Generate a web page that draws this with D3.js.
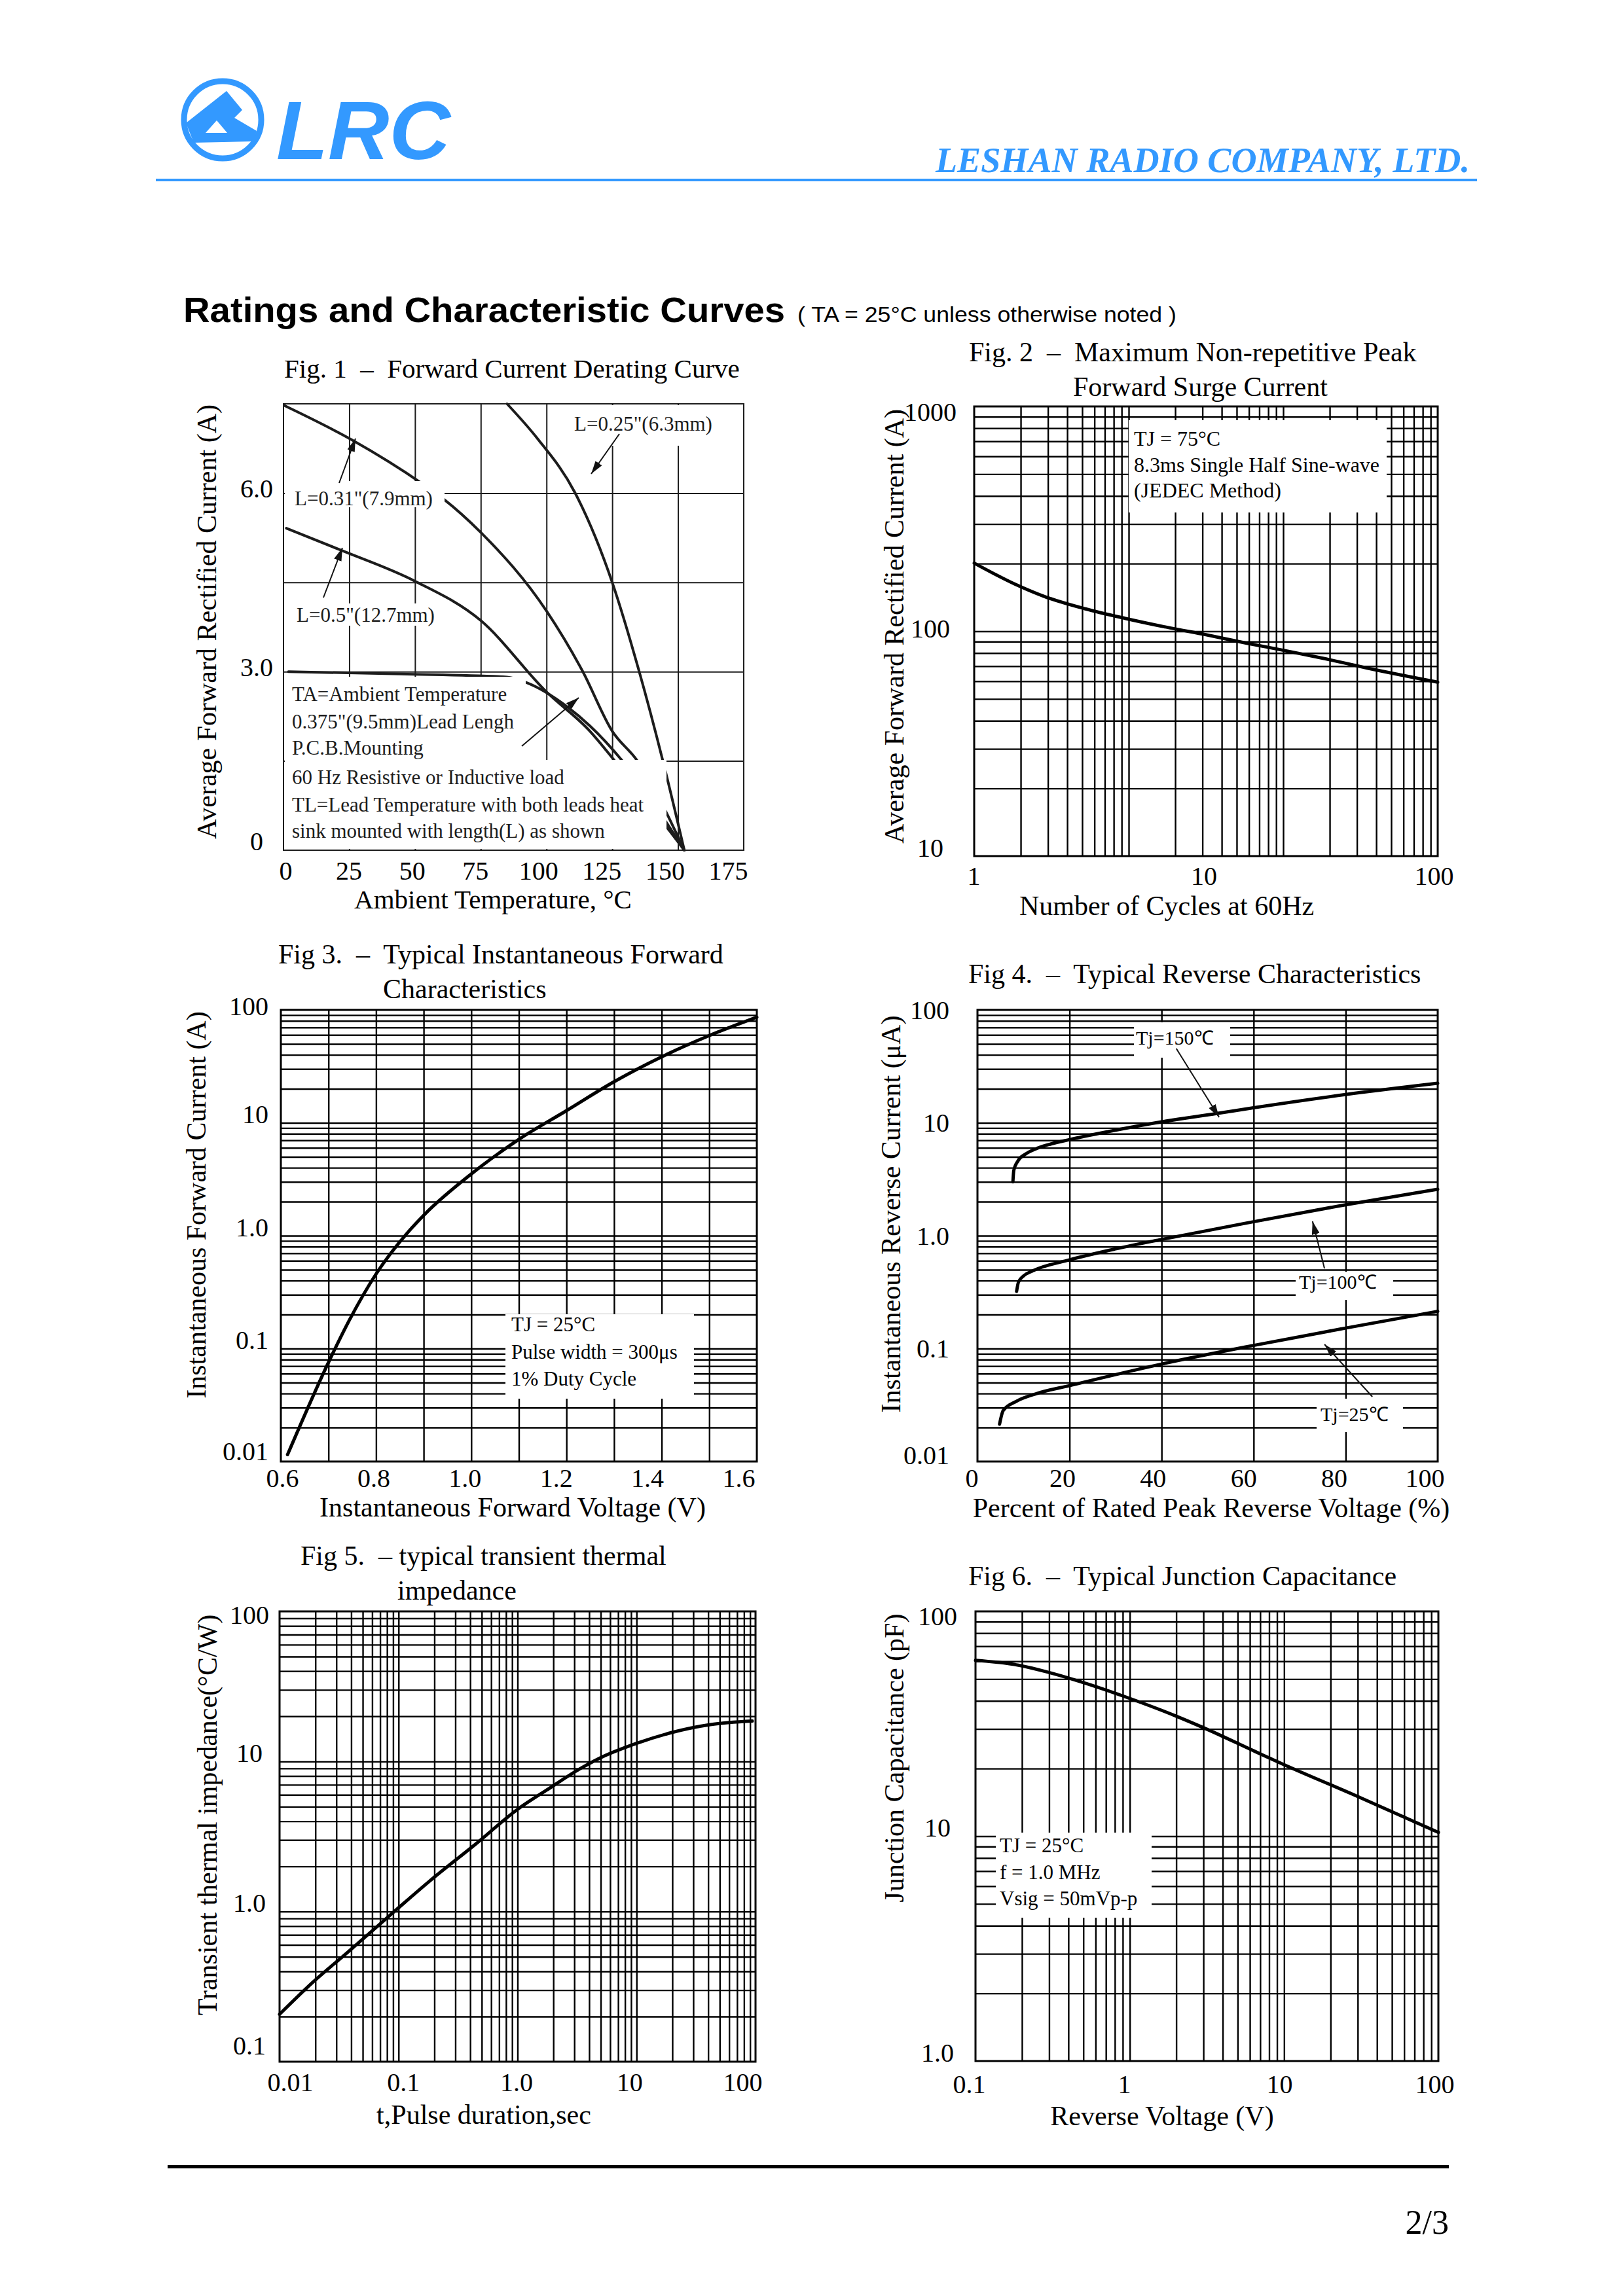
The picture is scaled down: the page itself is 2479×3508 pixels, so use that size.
<!DOCTYPE html>
<html>
<head>
<meta charset="utf-8">
<title>Ratings and Characteristic Curves</title>
<style>
  body { margin: 0; background: #fff; }
  text { white-space: pre; }
</style>
</head>
<body>
<script src="https://cdnjs.cloudflare.com/ajax/libs/d3/7.9.0/d3.min.js"></script>
<script>
// ---------- values ----------

// Fig 1 - forward current derating (ambient °C -> A)
const fig1TempL025 = [85, 96.5, 110.8, 125, 135.2, 144.2, 152.4];
const fig1AmpL025  = [7.5, 6.92, 6.01, 4.5, 3.01, 1.51, 0];
const fig1TempL031 = [0.4, 26.2, 52.7, 60.6, 75, 100, 113.7, 125, 134.4, 152.4];
const fig1AmpL031  = [7.47, 6.89, 6.16, 5.91, 5.34, 4.02, 3.01, 2.0, 1.51, 0];
const fig1TempL05  = [1.1, 21.9, 50, 75, 100, 116.5, 125.8, 152.4];
const fig1AmpL05   = [5.41, 5.04, 4.52, 3.86, 2.66, 2.0, 1.51, 0];
const fig1TempPcb  = [1.9, 44.9, 85, 92.2, 107.9, 116.5, 128.7, 152.4];
const fig1AmpPcb   = [3.0, 2.96, 2.91, 2.82, 2.41, 2.09, 1.51, 0];
const fig1XTicks = [0, 25, 50, 75, 100, 125, 150, 175];
const fig1YTicks = [0, 3, 6];
const fig1YTickText = ["0", "3.0", "6.0"];
const fig1XGrid = [25, 50, 75, 100, 125, 150];
const fig1YGrid = [1.5, 3, 4.5, 6];

// Fig 2 - surge current vs cycles
const fig2Cycles = [1, 1.5, 2, 3, 4.5, 7, 10, 15, 22, 33, 50, 100];
const fig2Amps   = [201, 162, 143, 126, 114, 103.5, 96.5, 88.5, 82, 75.3, 68.5, 59.4];
const fig2XTicks = [1, 10, 100];
const fig2YTicks = [10, 100, 1000];

// Fig 3 - forward characteristics
const fig3Volts = [0.614, 0.70, 0.744, 0.80, 0.868, 0.902, 1.0, 1.1, 1.2, 1.3, 1.4, 1.5, 1.6];
const fig3Amps  = [0.0115, 0.0755, 0.179, 0.458, 1.086, 1.545, 3.52, 7.13, 12.8, 23.1, 38.4, 59.2, 86.1];
const fig3XTicks = [0.6, 0.8, 1.0, 1.2, 1.4, 1.6];
const fig3XGrid = [0.7, 0.8, 0.9, 1.0, 1.1, 1.2, 1.3, 1.4, 1.5];
const decadeTicks = [0.01, 0.1, 1, 10, 100];
const decadeTickText = ["0.01", "0.1", "1.0", "10", "100"];

// Fig 4 - reverse characteristics (% of VRRM -> µA)
const fig4Pct150 = [7.7, 7.9, 8.8, 10.5, 13, 16, 20, 30, 40, 52, 60, 80, 100];
const fig4Ir150  = [3.0, 3.8, 4.6, 5.3, 5.95, 6.5, 7.1, 8.6, 10.2, 12.1, 13.6, 17.8, 22.4];
const fig4Pct100 = [8.5, 8.9, 10, 11.9, 20, 30.2, 40, 60, 80, 100];
const fig4Ir100  = [0.321, 0.387, 0.44, 0.486, 0.611, 0.767, 0.927, 1.33, 1.88, 2.58];
const fig4Pct25  = [4.8, 5.6, 8.5, 12.7, 20, 40, 60, 80, 100];
const fig4Ir25   = [0.0214, 0.0283, 0.0342, 0.0398, 0.047, 0.073, 0.1067, 0.152, 0.214];
const fig4XTicks = [0, 20, 40, 60, 80, 100];
const fig4XGrid = [20, 40, 60, 80];

// Fig 5 - transient thermal impedance
const fig5Sec = [0.01, 0.0191, 0.0368, 0.0946, 0.183, 0.443, 1.0, 1.87, 3.37, 4.87, 10, 19.8, 41.6, 94];
const fig5Zth = [0.207, 0.339, 0.530, 1.02, 1.60, 2.81, 4.80, 6.66, 8.97, 10.5, 13.2, 15.6, 17.6, 18.6];
const fig5XTicks = [0.01, 0.1, 1, 10, 100];
const fig5XTickText = ["0.01", "0.1", "1.0", "10", "100"];
const fig5YTicks = [0.1, 1, 10, 100];
const fig5YTickText = ["0.1", "1.0", "10", "100"];

// Fig 6 - junction capacitance
const fig6Volts = [0.1, 0.19, 0.284, 0.464, 1.0, 2.0, 3.0, 6.5, 10, 28.2, 100];
const fig6Pf    = [60.6, 57.6, 54.0, 49.0, 41.0, 34.2, 30.4, 23.8, 20.8, 15.3, 10.4];
const fig6XTicks = [0.1, 1, 10, 100];
const fig6XTickText = ["0.1", "1", "10", "100"];
const fig6YTicks = [1, 10, 100];
const fig6YTickText = ["1.0", "10", "100"];

// ---------- page ----------
const W = 2479, H = 3508;
const SERIF = "'Liberation Serif', 'Times New Roman', serif";
const SANS = "'Liberation Sans', Arial, Helvetica, sans-serif";
const BLUE = "#3399ff";

const svg = d3.select("body").append("svg")
    .attr("width", W).attr("height", H).style("display", "block");
svg.append("rect").attr("width", W).attr("height", H).attr("fill", "#fff");

svg.append("defs").append("marker")
    .attr("id", "arrow").attr("viewBox", "0 0 20 12")
    .attr("refX", 20).attr("refY", 6)
    .attr("markerWidth", 20).attr("markerHeight", 12)
    .attr("markerUnits", "userSpaceOnUse").attr("orient", "auto")
    .append("path").attr("d", "M0,0L20,6L0,12Z").attr("fill", "#111");

function logGrid(lo, hi) {
    const out = [];
    for (let e = Math.floor(Math.log10(lo)); e <= Math.ceil(Math.log10(hi)); e++) {
        for (let m = 1; m <= 9; m++) {
            const v = +(m * Math.pow(10, e)).toPrecision(6);
            if (v > lo * 1.001 && v < hi * 0.999) out.push(v);
        }
    }
    return out;
}

function text(str, x, y, size, o = {}) {
    const t = (o.parent || svg).append("text")
        .attr("x", x).attr("y", y)
        .attr("font-family", o.family || SERIF)
        .attr("font-size", size)
        .attr("fill", o.fill || "#000")
        .text(str);
    if (o.anchor) t.attr("text-anchor", o.anchor);
    if (o.weight) t.attr("font-weight", o.weight);
    if (o.italic) t.attr("font-style", "italic");
    if (o.len) t.attr("textLength", o.len).attr("lengthAdjust", "spacingAndGlyphs");
    return t;
}

function vtext(str, x, cy, size) {
    svg.append("text")
        .attr("transform", `translate(${x},${cy}) rotate(-90)`)
        .attr("text-anchor", "middle")
        .attr("font-family", SERIF).attr("font-size", size)
        .text(str);
}

function grid(g, x, y, box, xv, yv, w, color) {
    g.append("g").attr("transform", `translate(0,${box.b})`)
        .call(d3.axisBottom(x).tickValues(xv).tickSize(-(box.b - box.t)).tickFormat(""))
        .call(a => a.select(".domain").remove())
        .selectAll("line").attr("stroke", color).attr("stroke-width", w);
    g.append("g").attr("transform", `translate(${box.l},0)`)
        .call(d3.axisLeft(y).tickValues(yv).tickSize(-(box.r - box.l)).tickFormat(""))
        .call(a => a.select(".domain").remove())
        .selectAll("line").attr("stroke", color).attr("stroke-width", w);
}

function xTickLabels(g, x, box, vals, texts, a, b, base) {
    const pos = x.copy().range([box.l + a, box.r + b]);
    g.append("g").attr("transform", `translate(0,${box.b})`)
        .call(d3.axisBottom(x).tickValues(vals).tickSize(0).tickFormat((d, i) => texts[i]))
        .call(s => s.select(".domain").remove())
        .call(s => s.selectAll("line").remove())
        .selectAll("text")
        .attr("x", d => pos(d) - x(d)).attr("y", base).attr("dy", null)
        .attr("font-family", SERIF).attr("font-size", 40).attr("fill", "#000");
}

function yTickLabels(g, y, box, vals, texts, cx, anchor, off, topMin, botMax) {
    g.append("g")
        .call(d3.axisLeft(y).tickValues(vals).tickSize(0).tickFormat((d, i) => texts[i]))
        .call(s => s.select(".domain").remove())
        .call(s => s.selectAll("line").remove())
        .selectAll("text")
        .attr("x", cx).attr("text-anchor", anchor)
        .attr("y", d => Math.min(Math.max(y(d) + off, box.t + topMin), box.b + botMax) - y(d))
        .attr("dy", null)
        .attr("font-family", SERIF).attr("font-size", 40).attr("fill", "#000");
}

function curve(g, x, y, xs, ys, w, color) {
    const pts = xs.map((v, i) => [v, ys[i]]);
    g.append("path").datum(pts)
        .attr("fill", "none").attr("stroke", color).attr("stroke-width", w)
        .attr("stroke-linejoin", "round").attr("stroke-linecap", "round")
        .attr("d", d3.line().x(d => x(d[0])).y(d => y(d[1])).curve(d3.curveMonotoneX));
}

function whiteBox(g, x0, y0, x1, y1) {
    g.append("rect").attr("x", x0).attr("y", y0)
        .attr("width", x1 - x0).attr("height", y1 - y0).attr("fill", "#fff");
}

function frame(g, box, w, color) {
    g.append("rect").attr("x", box.l).attr("y", box.t)
        .attr("width", box.r - box.l).attr("height", box.b - box.t)
        .attr("fill", "none").attr("stroke", color).attr("stroke-width", w);
}

function arrow(g, x0, y0, x1, y1) {
    g.append("line").attr("x1", x0).attr("y1", y0).attr("x2", x1).attr("y2", y1)
        .attr("stroke", "#111").attr("stroke-width", 2).attr("marker-end", "url(#arrow)");
}

// ---------- header ----------
svg.append("circle").attr("cx", 340).attr("cy", 183).attr("r", 59)
    .attr("fill", "#fff").attr("stroke", BLUE).attr("stroke-width", 9);
svg.append("path").attr("d", "M346,139L370,168L358,180L392,200L388,216L296,218L284,188Z").attr("fill", BLUE);
svg.append("path").attr("d", "M331,184L347,203L314,203Z").attr("fill", "#fff");
text("LRC", 422, 243, 127, {family: SANS, weight: 900, italic: true, fill: BLUE, len: 266});
text("LESHAN RADIO COMPANY, LTD.", 1429, 263, 55, {weight: "bold", italic: true, fill: BLUE, len: 816});
svg.append("rect").attr("x", 238).attr("y", 273).attr("width", 2018).attr("height", 4).attr("fill", BLUE);

text("Ratings and Characteristic Curves", 280, 492, 53, {family: SANS, weight: "bold", len: 919});
text("( TA = 25°C unless otherwise noted )", 1218, 492, 33, {family: SANS, len: 579});

// ---------- Fig 1 ----------
{
    const box = {l: 433, t: 617, r: 1136, b: 1299};
    const x = d3.scaleLinear().domain([0, 175]).range([box.l, box.r]);
    const y = d3.scaleLinear().domain([0, 7.5]).range([box.b, box.t]);
    const c = "#1c1c1c";
    const g = svg.append("g");
    grid(g, x, y, box, fig1XGrid, fig1YGrid, 2, c);
    curve(g, x, y, fig1TempL025, fig1AmpL025, 4, c);
    curve(g, x, y, fig1TempL031, fig1AmpL031, 4, c);
    curve(g, x, y, fig1TempL05, fig1AmpL05, 4, c);
    curve(g, x, y, fig1TempPcb, fig1AmpPcb, 4, c);
    whiteBox(g, 874, 619, 1093, 681);
    whiteBox(g, 435, 735, 679, 775);
    whiteBox(g, 440, 922, 667, 956);
    whiteBox(g, 435, 1034, 803, 1161);
    whiteBox(g, 435, 1161, 1018, 1297);
    frame(g, box, 2, c);
    xTickLabels(g, x, box, fig1XTicks, fig1XTicks.map(String), 3, -24, 45);
    yTickLabels(g, y, box, fig1YTicks, fig1YTickText, 392, "middle", 6, 0, -1);

    const s = 31, fo = {fill: c};
    text("L=0.25\"(6.3mm)", 877, 658, s, fo);
    text("L=0.31\"(7.9mm)", 450, 772, s, fo);
    text("L=0.5\"(12.7mm)", 453, 950, s, fo);
    const notes = ["TA=Ambient Temperature", "0.375\"(9.5mm)Lead Lengh", "P.C.B.Mounting",
                   "60 Hz Resistive or Inductive load", "TL=Lead Temperature with both leads heat",
                   "sink mounted with length(L) as shown"];
    const noteBase = [1071, 1113, 1153, 1198, 1240, 1280];
    notes.forEach((n, i) => text(n, 446, noteBase[i], s, fo));
    arrow(g, 946, 663, 903, 724);
    arrow(g, 518, 738, 543, 670);
    arrow(g, 494, 913, 523, 837);
    arrow(g, 797, 1140, 884, 1066);

    text("Fig. 1  –  Forward Current Derating Curve", 434, 577, 41);
    text("Ambient Temperature, °C", 753, 1388, 41, {anchor: "middle"});
    vtext("Average Forward Rectified Current (A)", 330, 950, 42);
}

// ---------- Fig 2 ----------
{
    const box = {l: 1488, t: 621, r: 2196, b: 1308};
    const xGridScale = d3.scaleLog().domain([1, 1000]).range([box.l, box.r]);
    const x = d3.scaleLog().domain([1, 100]).range([box.l, box.r]);
    const y = d3.scaleLog().domain([10, 1000]).range([box.b, box.t]);
    const g = svg.append("g");
    grid(g, xGridScale, y, box, logGrid(1, 1000), logGrid(10, 1000), 2.4, "#000");
    whiteBox(g, box.l + 236, box.t + 21, box.l + 630, box.t + 162);
    curve(g, x, y, fig2Cycles, fig2Amps, 5, "#000");
    frame(g, box, 3, "#000");
    xTickLabels(g, x, box, fig2XTicks, fig2XTicks.map(String), -1, -6, 44);
    yTickLabels(g, y, box, fig2YTicks, fig2YTicks.map(String), box.l - 67, "middle", 9, 21, 0);
    text("TJ = 75°C", box.l + 244, box.t + 60, 32);
    text("8.3ms Single Half Sine-wave", box.l + 244, box.t + 100, 32);
    text("(JEDEC Method)", box.l + 244, box.t + 139, 32);
    text("Fig. 2  –  Maximum Non-repetitive Peak", 1480, 552, 42);
    text("Forward Surge Current", 1639, 605, 42);
    text("Number of Cycles at 60Hz", 1782, 1398, 42, {anchor: "middle"});
    vtext("Average Forward Rectified Current (A)", 1380, 957, 42);
}

// ---------- Fig 3 ----------
{
    const box = {l: 429, t: 1543, r: 1156, b: 2233};
    const x = d3.scaleLinear().domain([0.6, 1.6]).range([box.l, box.r]);
    const y = d3.scaleLog().domain([0.01, 100]).range([box.b, box.t]);
    const g = svg.append("g");
    grid(g, x, y, box, fig3XGrid, logGrid(0.01, 100), 2.4, "#000");
    whiteBox(g, box.l + 343, box.t + 465, box.l + 631, box.t + 594);
    curve(g, x, y, fig3Volts, fig3Amps, 5, "#000");
    frame(g, box, 3, "#000");
    xTickLabels(g, x, box, fig3XTicks, fig3XTicks.map(d3.format(".1f")), 2, -28, 39);
    yTickLabels(g, y, box, decadeTicks, decadeTickText, box.l - 19, "end", 0, 7, -3);
    text("TJ = 25°C", box.l + 352, box.t + 491, 31);
    text("Pulse width = 300μs", box.l + 352, box.t + 533, 31);
    text("1% Duty Cycle", box.l + 352, box.t + 574, 31);
    text("Fig 3.  –  Typical Instantaneous Forward", 425, 1472, 42);
    text("Characteristics", 585, 1525, 42);
    text("Instantaneous Forward Voltage (V)", 783, 2317, 42, {anchor: "middle"});
    vtext("Instantaneous Forward Current (A)", 314, 1841, 42);
}

// ---------- Fig 4 ----------
{
    const box = {l: 1493, t: 1543, r: 2196, b: 2233};
    const x = d3.scaleLinear().domain([0, 100]).range([box.l, box.r]);
    const y = d3.scaleLog().domain([0.01, 100]).range([box.b, box.t]);
    const g = svg.append("g");
    grid(g, x, y, box, fig4XGrid, logGrid(0.01, 100), 2.4, "#000");
    whiteBox(g, box.l + 239, box.t + 19, box.l + 386, box.t + 73);
    whiteBox(g, box.l + 486, box.t + 400, box.l + 635, box.t + 443);
    whiteBox(g, box.l + 518, box.t + 594, box.l + 650, box.t + 645);
    curve(g, x, y, fig4Pct150, fig4Ir150, 5, "#000");
    curve(g, x, y, fig4Pct100, fig4Ir100, 5, "#000");
    curve(g, x, y, fig4Pct25, fig4Ir25, 5, "#000");
    frame(g, box, 3, "#000");
    xTickLabels(g, x, box, fig4XTicks, fig4XTicks.map(String), -9, -20, 39);
    yTickLabels(g, y, box, decadeTicks, decadeTickText, box.l - 43, "end", 13, 13, 3);
    text("Tj=150℃", box.l + 242, box.t + 53, 30);
    text("Tj=100℃", box.l + 491, box.t + 426, 30);
    text("Tj=25℃", box.l + 524, box.t + 628, 30);
    arrow(g, x(43.2), y(45.5), x(52.5), y(11.2));
    arrow(g, x(75.4), y(0.513), x(72.8), y(1.34));
    arrow(g, x(85.8), y(0.0375), x(75.4), y(0.109));
    text("Fig 4.  –  Typical Reverse Characteristics", 1479, 1502, 42);
    text("Percent of Rated Peak Reverse Voltage (%)", 1850, 2318, 42, {anchor: "middle"});
    vtext("Instantaneous Reverse Current (μA)", 1375, 1855, 42);
}

// ---------- Fig 5 ----------
{
    const box = {l: 427, t: 2462, r: 1154, b: 3150};
    const x = d3.scaleLog().domain([0.01, 100]).range([box.l, box.r]);
    const y = d3.scaleLog().domain([0.1, 100]).range([box.b, box.t]);
    const g = svg.append("g");
    grid(g, x, y, box, logGrid(0.01, 100), logGrid(0.1, 100), 2.4, "#000");
    curve(g, x, y, fig5Sec, fig5Zth, 5, "#000");
    frame(g, box, 3, "#000");
    xTickLabels(g, x, box, fig5XTicks, fig5XTickText, 16, -20, 45);
    yTickLabels(g, y, box, fig5YTicks, fig5YTickText, box.l - 46, "middle", 0, 18, -12);
    text("Fig 5.  – typical transient thermal", 459, 2391, 42);
    text("impedance", 607, 2444, 42);
    text("t,Pulse duration,sec", 739, 3245, 42, {anchor: "middle"});
    vtext("Transient thermal impedance(°C/W)", 331, 2773, 42);
}

// ---------- Fig 6 ----------
{
    const box = {l: 1490, t: 2462, r: 2197, b: 3149};
    const x = d3.scaleLog().domain([0.1, 100]).range([box.l, box.r]);
    const y = d3.scaleLog().domain([1, 100]).range([box.b, box.t]);
    const g = svg.append("g");
    grid(g, x, y, box, logGrid(0.1, 100), logGrid(1, 100), 2.4, "#000");
    whiteBox(g, box.l + 31, box.t + 338, box.l + 269, box.t + 468);
    curve(g, x, y, fig6Volts, fig6Pf, 5, "#000");
    frame(g, box, 3, "#000");
    xTickLabels(g, x, box, fig6XTicks, fig6XTickText, -10, -6, 49);
    yTickLabels(g, y, box, fig6YTicks, fig6YTickText, box.l - 58, "middle", 0, 20, 0);
    text("TJ = 25°C", box.l + 37, box.t + 368, 31);
    text("f = 1.0 MHz", box.l + 37, box.t + 409, 31);
    text("Vsig = 50mVp-p", box.l + 37, box.t + 449, 31);
    text("Fig 6.  –  Typical Junction Capacitance", 1479, 2422, 42);
    text("Reverse Voltage (V)", 1775, 3247, 42, {anchor: "middle"});
    vtext("Junction Capacitance (pF)", 1380, 2686, 42);
}

// ---------- footer ----------
svg.append("rect").attr("x", 256).attr("y", 3308).attr("width", 1957).attr("height", 5).attr("fill", "#000");
text("2/3", 2213, 3413, 52, {anchor: "end"});
</script>
</body>
</html>
